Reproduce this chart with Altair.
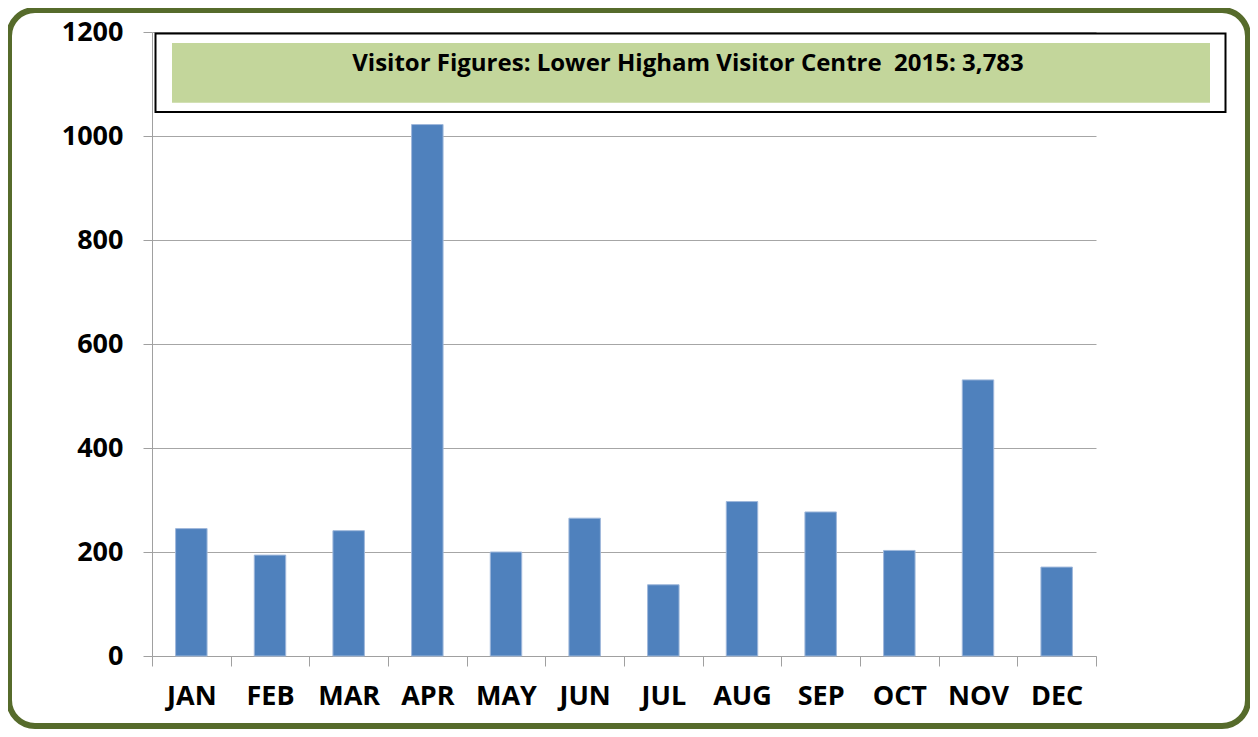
import altair as alt
import pandas as pd

months = ["JAN", "FEB", "MAR", "APR", "MAY", "JUN", "JUL", "AUG", "SEP", "OCT", "NOV", "DEC"]
visitors = [245, 194, 241, 1022, 200, 265, 137, 297, 277, 203, 531, 171]
y_ticks = [0, 200, 400, 600, 800, 1000, 1200]
title_text = "Visitor Figures: Lower Higham Visitor Centre\u00a0 2015: 3,783"

df = pd.DataFrame({"month": months, "visitors": visitors})
one = pd.DataFrame({"k": [0]})

W, H = 944, 624
PAD = {"left": 144, "top": 24, "right": 154, "bottom": 73}

bars = alt.Chart(df).mark_bar(
    width=alt.RelativeBandSize(0.4), color="#4F81BD", stroke="#9FB8DB", strokeWidth=1
).encode(
    x=alt.X("month:N", sort=months, title=None,
            scale=alt.Scale(paddingInner=0, paddingOuter=0),
            axis=alt.Axis(tickBand="extent", labelAngle=0, tickSize=10,
                          labelPadding=17, grid=False)),
    y=alt.Y("visitors:Q", title=None,
            scale=alt.Scale(domain=[0, 1200], nice=False),
            axis=alt.Axis(values=y_ticks, tickSize=9, labelPadding=20, grid=True,
                          format="d")),
)

border = alt.Chart(one).mark_rect(
    fill="transparent", stroke="#566B2B", strokeWidth=6, cornerRadius=26
).encode(
    x=alt.value(-143), x2=alt.value(1096), y=alt.value(-22), y2=alt.value(694)
)

box = alt.Chart(one).mark_rect(
    fill="white", stroke="black", strokeWidth=2
).encode(
    x=alt.value(3.5), x2=alt.value(1073.5), y=alt.value(1.5), y2=alt.value(80)
)

green = alt.Chart(one).mark_rect(fill="#C3D69B").encode(
    x=alt.value(20), x2=alt.value(1058), y=alt.value(11), y2=alt.value(70.7)
)

txt = alt.Chart(one).mark_text(
    text=title_text, font="Open Sans", fontWeight="bold", fontSize=24,
    align="center", baseline="alphabetic", color="black"
).encode(x=alt.value(536), y=alt.value(38.5))

chart = alt.layer(border, bars, box, green, txt).properties(
    width=W, height=H,
    autosize=alt.AutoSizeParams(type="none"),
    padding=PAD,
    background="white",
).configure_axis(
    labelFont="Open Sans", labelFontWeight="bold", labelFontSize=27, labelColor="black",
    domainColor="#A0A0A0", tickColor="#A0A0A0", gridColor="#A6A6A6",
    domainWidth=1, tickWidth=1, gridWidth=1,
).configure_view(strokeWidth=0)

chart.save("out.html", embed_options={"renderer": "svg", "actions": False})
